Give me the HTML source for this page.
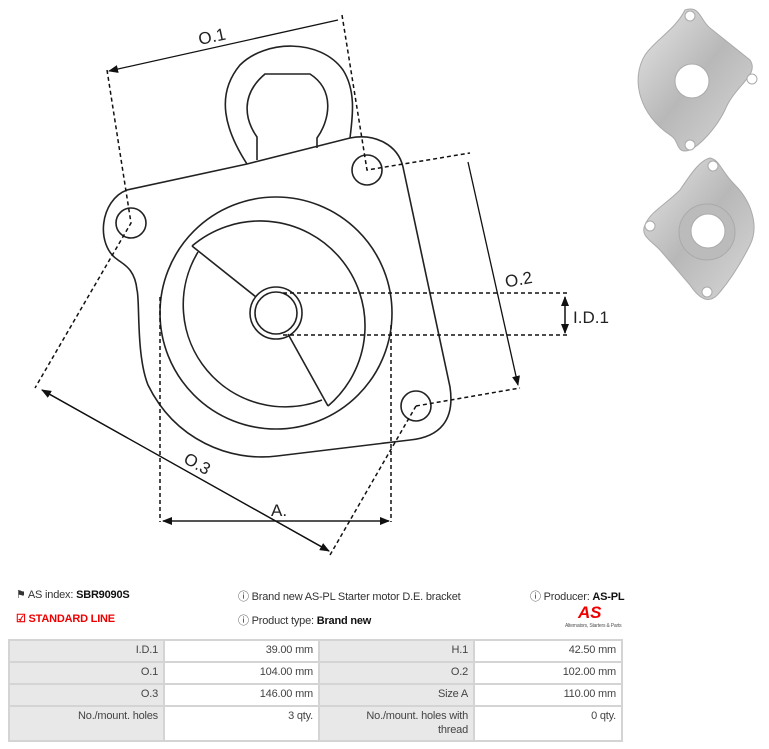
<!DOCTYPE html>
<html><head><meta charset="utf-8"><style>
body{margin:0;width:769px;height:749px;background:#fff;position:relative;overflow:hidden;font-family:"Liberation Sans",sans-serif;color:#333}
.t{position:absolute;font-size:11px;white-space:nowrap;letter-spacing:-0.2px}
b{color:#111}
table{position:absolute;left:8px;top:639px;width:615px;border-collapse:collapse;font-size:11px;letter-spacing:-0.2px}
td{border:2px solid #d4d4d4;text-align:right;padding:2px 5px;height:16px;line-height:14px;vertical-align:top;color:#444}
td.g{background:#e8e8e8}
</style></head><body>
<svg width="769" height="580" style="position:absolute;left:0;top:0" xmlns="http://www.w3.org/2000/svg">
<defs>
<marker id="a" markerWidth="10" markerHeight="8" refX="9" refY="4" orient="auto" markerUnits="userSpaceOnUse"><path d="M0,0L10,4L0,8z" fill="#111"/></marker>
<linearGradient id="m" x1="0" y1="0" x2="1" y2="1"><stop offset="0" stop-color="#e6e6e6"/><stop offset=".5" stop-color="#b8b8b8"/><stop offset="1" stop-color="#d8d8d8"/></linearGradient>
</defs>
<g fill="none" stroke="#222" stroke-width="1.6">
<path d="M247,164 C225,130 215,95 240,65 C265,40 320,38 343,70 C357,92 352,120 350,138"/>
<path d="M257,160 L257,137 C245,120 240,95 265,74 L310,74 C335,90 330,120 317,138 L317,148"/>
<path d="M127,190 L247,164 L350,138 C375,133 398,145 403,167 L450,387 C455,420 440,437 410,440 L277,456 C230,462 175,440 148,385 C136,355 140,300 137,290 C135,270 125,265 118,260 C95,245 100,200 127,190 Z"/>
<circle cx="131" cy="223" r="15"/><circle cx="367" cy="170" r="15"/><circle cx="416" cy="406" r="15"/>
<circle cx="276" cy="313" r="116"/>
<path d="M192,246 A102,102 0 1 1 328,406"/>
<path d="M198,252 A102,102 0 0 0 322,400"/>
<path d="M192,246 L256,297 M288,334 L328,406"/>
<circle cx="276" cy="313" r="26"/><circle cx="276" cy="313" r="21"/>
</g>
<g fill="none" stroke="#111" stroke-width="1.5" stroke-dasharray="4,3">
<path d="M107,70 L131,223 L35,388"/><path d="M342,15 L367,170 L470,153"/>
<path d="M416,406 L520,388"/><path d="M416,406 L330,555"/>
<path d="M160,297 L160,522 M391,325 L391,522"/>
<path d="M283,293 L570,293 M283,335 L570,335"/>
</g>
<g stroke="#111" stroke-width="1.3" fill="none">
<path d="M338,20 L109,71" marker-end="url(#a)"/>
<path d="M468,162 L518,385" marker-end="url(#a)"/>
<path d="M42,390 L329,551" marker-end="url(#a)"/><path d="M329,551 L42,390" marker-end="url(#a)"/>
<path d="M163,521 L389,521" marker-end="url(#a)"/><path d="M389,521 L163,521" marker-end="url(#a)"/>
<path d="M565,297 L565,333" marker-end="url(#a)"/><path d="M565,333 L565,297" marker-end="url(#a)"/>
</g>
<g font-family="Liberation Sans,sans-serif" font-size="17" fill="#222">
<text x="198" y="42" transform="rotate(-12 213 35)">O.1</text>
<text x="505" y="285" transform="rotate(-10 520 280)">O.2</text>
<text x="183" y="470" transform="rotate(29 198 465)">O.3</text>
<text x="271" y="516">A.</text>
<text x="573" y="323">I.D.1</text>
</g>
<g stroke="#aaa" stroke-width="1">
<path d="M685,10 C700,5 700,20 710,28 L750,60 C760,75 735,85 725,110 C715,130 700,145 690,150 C675,155 680,140 670,135 C640,115 630,80 645,55 C655,40 675,30 685,10Z" fill="url(#m)"/>
<circle cx="692" cy="81" r="17" fill="#fff"/>
<circle cx="690" cy="16" r="5" fill="#fff"/><circle cx="752" cy="79" r="5" fill="#fff"/><circle cx="690" cy="145" r="5" fill="#fff"/>
<path d="M710,158 C720,160 720,170 735,185 C750,200 760,225 750,245 C740,265 730,280 720,292 C710,305 700,300 690,285 L660,250 C650,240 640,235 645,225 C650,212 665,205 680,190 C690,175 700,160 710,158Z" fill="url(#m)"/>
<circle cx="707" cy="232" r="28" fill="#bbb"/><circle cx="708" cy="231" r="17" fill="#fff"/>
<circle cx="713" cy="166" r="5" fill="#fff"/><circle cx="650" cy="226" r="5" fill="#fff"/><circle cx="707" cy="292" r="5" fill="#fff"/>
</g>
</svg>
<div class="t" style="left:16px;top:588px">&#9873; AS index: <b>SBR9090S</b></div>
<div class="t" style="left:16px;top:612px;color:#e00;font-weight:bold">&#9745; STANDARD LINE</div>
<div class="t" style="left:238px;top:588px">&#9432; Brand new AS-PL Starter motor D.E. bracket</div>
<div class="t" style="left:238px;top:612px">&#9432; Product type: <b>Brand new</b></div>
<div class="t" style="left:530px;top:588px">&#9432; Producer: <b>AS-PL</b></div>
<div class="t" style="left:578px;top:603px;color:#e00;font-weight:bold;font-style:italic;font-size:17px">AS</div>
<div class="t" style="left:565px;top:623px;font-size:5px;color:#555">Alternators, Starters &amp; Parts</div>
<table>
<tr><td class="g" style="width:143px">I.D.1</td><td style="width:143px">39.00 mm</td><td class="g" style="width:143px">H.1</td><td>42.50 mm</td></tr>
<tr><td class="g">O.1</td><td>104.00 mm</td><td class="g">O.2</td><td>102.00 mm</td></tr>
<tr><td class="g">O.3</td><td>146.00 mm</td><td class="g">Size A</td><td>110.00 mm</td></tr>
<tr><td class="g" style="height:29px">No./mount. holes</td><td>3 qty.</td><td class="g">No./mount. holes with<br>thread</td><td>0 qty.</td></tr>
</table>
</body></html>
